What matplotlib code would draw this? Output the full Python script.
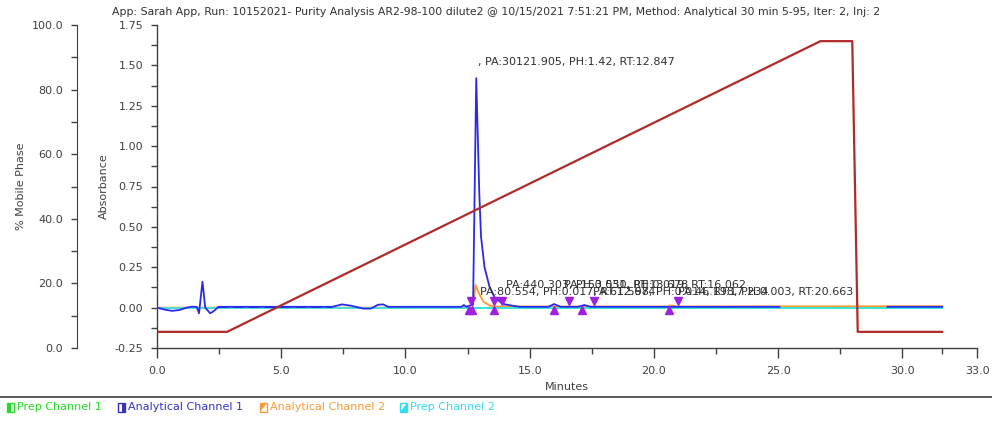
import matplotlib.pyplot as plt
import numpy as np
from matplotlib.lines import Line2D
from matplotlib.patches import Rectangle, Polygon

# ---- data ----
title = ("App: Sarah App, Run: 10152021- Purity Analysis AR2-98-100 dilute2 @ 10/15/2021 "
         "7:51:21 PM, Method: Analytical 30 min 5-95, Iter: 2, Inj: 2")

# mobile phase gradient (% B)
mp_time = [0.0, 2.82, 26.7, 27.98, 28.2, 31.6]
mp_pct = [5, 5, 95, 95, 5, 5]

# analytical channel 1 (blue), NaN = no trace
blue_time = [0.0, 0.3, 0.6, 0.9, 1.2, 1.4, 1.6, 1.69, 1.83, 1.94, 2.14, 2.3, 2.47,
             7.05, 7.45, 7.8, 8.3, 8.6, 8.9, 9.1, 9.3, 12.25, 12.35, 12.45, 12.72,
             12.847, 12.9, 12.97, 13.04, 13.18, 13.38, 13.58, 13.85, 14.0, 14.3, 14.6,
             15.75, 15.98, 16.25, 16.95, 17.2, 17.45, 25.05, 25.06, 29.4, 31.6]
blue_abs = [0.0, -0.012, -0.02, -0.015, 0.0, 0.006, 0.004, -0.035, 0.16, 0.0, -0.035, -0.02, 0.005,
            0.005, 0.02, 0.012, -0.006, -0.006, 0.018, 0.02, 0.005, 0.005, 0.016, 0.005, 0.02,
            1.42, 1.12, 0.71, 0.44, 0.25, 0.13, 0.066, 0.03, 0.02, 0.012, 0.005,
            0.005, 0.022, 0.005, 0.005, 0.016, 0.005, 0.005, np.nan, 0.005, 0.005]
dashed_from, dashed_to = 2.47, 7.05

# analytical channel 2 (orange)
orange_time = [0.0, 12.7, 12.76, 12.82, 12.95, 13.15, 13.4, 13.6, 20.55, 20.65, 20.8, 20.9, 31.6]
orange_abs = [0.0, 0.0, 0.06, 0.14, 0.09, 0.035, 0.012, 0.007, 0.007, 0.013, 0.012, 0.007, 0.009]

# prep channels at baseline
prep_time = [0.0, 31.6]
prep1_abs = [0.0, 0.0]
prep2_abs = [0.0, 0.0]

# peak start / end markers
peak_starts = [12.55, 12.68, 13.56, 15.98, 17.12, 20.62]
peak_ends = [12.65, 13.56, 13.9, 16.58, 17.59, 20.98]

# peak labels: (x, y, text)
peak_labels = [
    (12.9, 1.52, ", PA:30121.905, PH:1.42, RT:12.847"),
    (12.98, 0.095, "PA:80.554, PH:0.017, RT:12.674"),
    (14.03, 0.14, "PA:440.303, PH:0.031, RT:13.678"),
    (16.36, 0.14, "PA:153.550, PH:0.019, RT:16.062"),
    (17.53, 0.095, "PA:61.598, PH:0.014, RT:17.234"),
    (20.96, 0.095, "PA:46.198, PH:0.003, RT:20.663"),
]

x_major = [0, 5, 10, 15, 20, 25, 30, 33]
x_minor = [2.5, 7.5, 12.5, 17.5, 22.5, 27.5, 31.6]
abs_major = [-0.25, 0.0, 0.25, 0.5, 0.75, 1.0, 1.25, 1.5, 1.75]
abs_minor = [-0.125, 0.125, 0.375, 0.625, 0.875, 1.125, 1.375, 1.625]
mp_major = [0, 20, 40, 60, 80, 100]
mp_minor = [10, 30, 50, 70, 90]

legend_items = [("Prep Channel 1", "#22dd22"), ("Analytical Channel 1", "#3333cc"),
                ("Analytical Channel 2", "#ff9933"), ("Prep Channel 2", "#33ddee")]

# ---- figure ----
W, H = 992, 421
fig = plt.figure(figsize=(W / 100, H / 100), dpi=100)
plt.rcParams['font.family'] = ['DejaVu Sans']
gray = '#404040'

def fx(x):
    return x / W

def fy(y):
    return 1 - y / H

ax = fig.add_axes([fx(157), fy(348), fx(977) - fx(157), fy(25) - fy(348)])
ax.set_xlim(0, 33)
ax.set_ylim(-0.25, 1.75)

# traces
ax.plot(prep_time, prep1_abs, color='#22dd22', lw=1.2, zorder=2)
ax.plot(orange_time, orange_abs, color='#ff9a2e', lw=1.3, zorder=3)
ax.plot(prep_time, prep2_abs, color='#33e8f5', lw=1.2, zorder=4)

bt = np.array(blue_time)
ba = np.array(blue_abs)
dash_mask = (bt >= dashed_from) & (bt <= dashed_to)
solid = np.where((bt <= dashed_from) | (bt >= dashed_to), ba, np.nan)
ax.plot(bt, solid, color='#2a2aee', lw=1.3, zorder=5)
ax.plot(bt[dash_mask], ba[dash_mask], color='#2a2aee', lw=1.4, zorder=5,
        linestyle=(0, (5, 3)))

ax.plot(peak_starts, [-0.012] * len(peak_starts), linestyle='none', marker='^',
        color='#a020e0', markersize=5.5, zorder=6)
ax.plot(peak_ends, [0.04] * len(peak_ends), linestyle='none', marker='v',
        color='#a020e0', markersize=5.5, zorder=6)

for x, y, s in peak_labels:
    ax.text(x, y, s, fontsize=8, color='#303030', ha='left', va='center', zorder=7)

ax.set_xticks(x_major)
ax.set_xticklabels([f"{v:.1f}" for v in x_major])
ax.set_xticks(x_minor, minor=True)
ax.set_yticks(abs_major)
ax.set_yticklabels([f"{v:.2f}" for v in abs_major])
ax.set_yticks(abs_minor, minor=True)
ax.tick_params(axis='x', which='major', length=7, width=1, color=gray, labelcolor=gray, labelsize=8, pad=6)
ax.tick_params(axis='x', which='minor', length=4, width=1, color=gray)
ax.tick_params(axis='y', which='both', length=4, width=1, color=gray, labelcolor=gray, labelsize=8, pad=6)
ax.set_xlabel("Minutes", fontsize=8, color=gray, labelpad=4)
ax.set_ylabel("Absorbance", fontsize=8, color=gray, labelpad=4)
for side in ['top', 'right']:
    ax.spines[side].set_visible(False)
for side in ['left', 'bottom']:
    ax.spines[side].set_color(gray)
    ax.spines[side].set_linewidth(1)

# mobile phase axis
ax2 = ax.twinx()
ax2.set_ylim(0, 100)
ax2.plot(mp_time, mp_pct, color='#b02a2a', lw=1.6, zorder=8)
ax2.yaxis.tick_left()
ax2.yaxis.set_label_position('left')
ax2.spines['left'].set_position(('outward', 80 * 0.72))
for side in ['top', 'right', 'bottom']:
    ax2.spines[side].set_visible(False)
ax2.spines['left'].set_color(gray)
ax2.set_yticks(mp_major)
ax2.set_yticklabels([f"{v:.1f}" for v in mp_major])
ax2.set_yticks(mp_minor, minor=True)
ax2.tick_params(axis='y', which='both', length=4, width=1, color=gray, labelcolor=gray, labelsize=8, pad=6)
ax2.set_ylabel("% Mobile Phase", fontsize=8, color=gray, labelpad=4)

fig.text(0.5, fy(12), title, ha='center', va='center', fontsize=7.8, color='#303030')

# legend strip
fig.add_artist(Line2D([0, 1], [fy(397), fy(397)], transform=fig.transFigure, color=gray, lw=1.2))
icon_x = [7, 118, 260, 400]
for (label, col), x0, kind in zip(legend_items, icon_x, ['left', 'right', 'ul', 'lr']):
    x1 = x0 + 7
    y_top, y_bot = 403, 412
    fig.add_artist(Rectangle((fx(x0), fy(y_bot)), fx(7), fy(y_top) - fy(y_bot), transform=fig.transFigure,
                             facecolor='white', edgecolor=col, lw=1))
    if kind == 'left':
        pts = [(x0, y_top), (x0 + 3.5, y_top), (x0 + 3.5, y_bot), (x0, y_bot)]
    elif kind == 'right':
        pts = [(x0 + 3.5, y_top), (x1, y_top), (x1, y_bot), (x0 + 3.5, y_bot)]
    elif kind == 'ul':
        pts = [(x0, y_top), (x1, y_top), (x0, y_bot)]
    else:
        pts = [(x1, y_top), (x1, y_bot), (x0, y_bot)]
    fig.add_artist(Polygon([(fx(a), fy(b)) for a, b in pts], transform=fig.transFigure,
                           facecolor=col, edgecolor='none'))
    fig.text(fx(x0 + 10), fy(407.5), label, ha='left', va='center', fontsize=8, color=col)

fig.savefig("out.png", dpi=100)
